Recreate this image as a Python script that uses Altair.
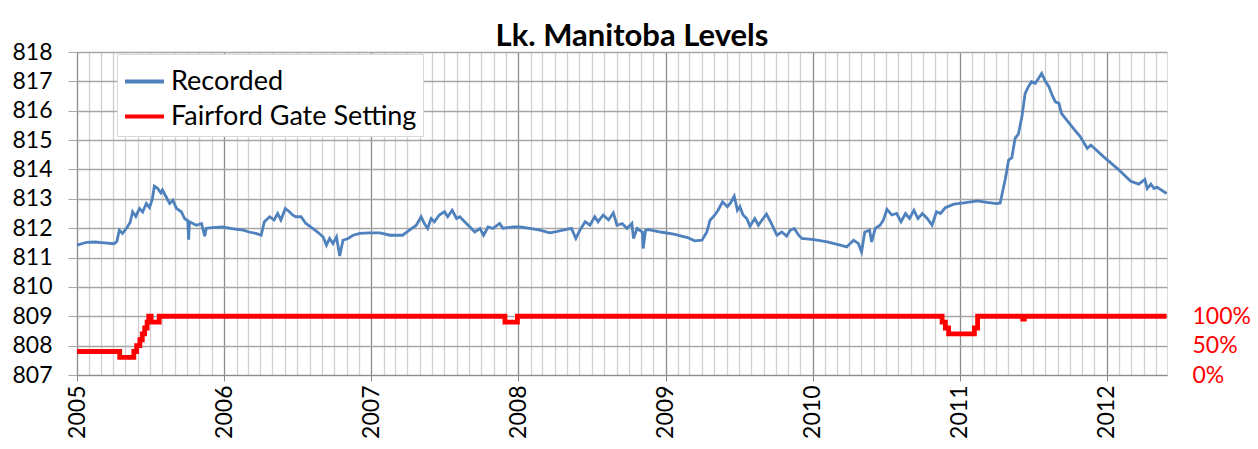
import altair as alt
import pandas as pd

# ---- Recorded lake level (ft) ----
rec_dates = [
    "2005-01-01", "2005-01-25", "2005-02-15", "2005-03-10", "2005-04-03", "2005-04-10",
    "2005-04-16", "2005-04-24", "2005-05-06", "2005-05-13", "2005-05-19", "2005-05-27",
    "2005-06-05", "2005-06-13", "2005-06-22", "2005-06-30", "2005-07-07", "2005-07-12",
    "2005-07-20", "2005-07-28", "2005-08-01", "2005-08-10", "2005-08-19", "2005-08-27",
    "2005-09-05", "2005-09-17", "2005-09-25", "2005-10-03", "2005-10-05", "2005-10-07",
    "2005-10-24", "2005-11-06", "2005-11-14", "2005-11-18", "2005-12-04", "2005-12-28",
    "2006-01-24", "2006-02-18", "2006-03-04", "2006-03-21", "2006-04-03",
    "2006-04-11", "2006-04-24", "2006-05-05", "2006-05-14", "2006-05-22", "2006-06-02",
    "2006-06-12", "2006-06-20", "2006-06-28", "2006-07-11", "2006-07-23", "2006-08-09",
    "2006-08-21", "2006-09-04", "2006-09-12", "2006-09-20", "2006-09-28", "2006-10-07",
    "2006-10-15", "2006-10-23", "2006-11-05", "2006-11-17", "2006-12-04", "2006-12-28",
    "2007-01-23", "2007-02-17", "2007-03-20", "2007-04-06", "2007-04-23", "2007-05-05",
    "2007-05-13", "2007-05-21", "2007-05-30", "2007-06-07", "2007-06-19", "2007-07-02",
    "2007-07-10", "2007-07-21", "2007-08-01", "2007-08-09", "2007-08-21", "2007-09-03",
    "2007-09-15", "2007-09-28", "2007-10-07", "2007-10-18", "2007-10-30", "2007-11-16",
    "2007-11-24", "2007-12-19", "2008-01-05", "2008-01-30", "2008-02-24", "2008-03-19",
    "2008-04-01", "2008-04-21", "2008-05-12", "2008-05-23", "2008-06-02", "2008-06-15",
    "2008-06-27", "2008-07-09", "2008-07-17", "2008-07-30", "2008-08-12", "2008-08-24",
    "2008-09-02", "2008-09-15", "2008-09-27", "2008-10-09", "2008-10-13", "2008-10-22",
    "2008-11-04", "2008-11-06", "2008-11-12", "2008-11-20", "2008-12-19", "2009-01-21",
    "2009-02-24", "2009-03-14", "2009-04-01", "2009-04-13", "2009-04-21", "2009-05-03",
    "2009-05-11", "2009-05-22", "2009-06-03", "2009-06-10", "2009-06-20", "2009-06-28",
    "2009-07-04", "2009-07-12", "2009-07-21", "2009-07-29", "2009-08-10", "2009-08-19",
    "2009-08-28", "2009-09-08", "2009-09-18", "2009-09-26", "2009-10-04", "2009-10-16",
    "2009-10-28", "2009-11-06", "2009-11-16", "2009-11-27", "2009-12-05", "2010-01-04",
    "2010-02-06", "2010-03-10", "2010-03-26", "2010-04-12", "2010-04-24", "2010-05-02",
    "2010-05-10", "2010-05-22", "2010-05-27", "2010-06-05", "2010-06-17", "2010-06-25",
    "2010-07-04", "2010-07-16", "2010-07-28", "2010-08-08", "2010-08-19", "2010-08-29",
    "2010-09-09", "2010-09-19", "2010-09-30", "2010-10-12", "2010-10-24", "2010-11-04",
    "2010-11-14", "2010-11-26", "2010-12-17", "2011-01-11", "2011-02-14", "2011-03-09",
    "2011-04-03", "2011-04-11", "2011-04-24", "2011-05-02", "2011-05-10", "2011-05-18",
    "2011-05-26", "2011-06-04", "2011-06-12", "2011-06-20", "2011-06-28", "2011-07-07",
    "2011-07-15", "2011-07-23", "2011-08-01", "2011-08-10", "2011-08-18", "2011-08-26",
    "2011-09-04", "2011-09-10", "2011-10-03", "2011-10-27", "2011-11-13", "2011-11-22",
    "2011-12-24", "2012-01-27", "2012-02-29", "2012-03-20", "2012-04-04", "2012-04-10",
    "2012-04-19", "2012-04-27", "2012-05-04", "2012-05-28",
]
rec_levels = [
    811.42, 811.52, 811.53, 811.50, 811.47, 811.55,
    811.93, 811.82, 812.04, 812.20, 812.56, 812.40,
    812.67, 812.55, 812.84, 812.70, 813.00, 813.43,
    813.36, 813.20, 813.30, 813.07, 812.84, 812.95,
    812.67, 812.56, 812.33, 812.25, 811.61, 812.22,
    812.10, 812.16, 811.73, 812.00, 812.02, 812.04,
    811.98, 811.93, 811.87, 811.82, 811.76,
    812.22, 812.39, 812.28, 812.50, 812.28, 812.67,
    812.56, 812.45, 812.39, 812.39, 812.16, 811.99,
    811.87, 811.70, 811.42, 811.65, 811.48, 811.70,
    811.05, 811.59, 811.65, 811.76, 811.82, 811.84,
    811.84, 811.76, 811.76, 811.93, 812.10, 812.39,
    812.16, 811.99, 812.33, 812.22, 812.45, 812.56,
    812.39, 812.61, 812.33, 812.39, 812.22, 812.04,
    811.87, 811.99, 811.76, 812.04, 811.99, 812.16,
    812.00, 812.04, 812.04, 811.99, 811.93, 811.84,
    811.87, 811.93, 811.99, 811.65, 811.93, 812.22,
    812.10, 812.39, 812.22, 812.45, 812.28, 812.52,
    812.10, 812.16, 811.99, 812.16, 811.65, 811.99,
    811.87, 811.31, 811.93, 811.95, 811.87, 811.80,
    811.68, 811.57, 811.59, 811.87, 812.27, 812.45,
    812.61, 812.90, 812.73, 812.84, 813.09, 812.61,
    812.73, 812.45, 812.33, 812.07, 812.33, 812.10,
    812.28, 812.48, 812.22, 811.99, 811.76, 811.87,
    811.73, 811.93, 811.99, 811.76, 811.65, 811.61,
    811.53, 811.42, 811.36, 811.59, 811.48, 811.19,
    811.87, 811.93, 811.53, 811.99, 812.10, 812.27,
    812.64, 812.45, 812.50, 812.22, 812.50, 812.33,
    812.61, 812.33, 812.50, 812.33, 812.10, 812.56,
    812.50, 812.70, 812.82, 812.86, 812.93, 812.88,
    812.84, 812.86, 813.69, 814.32, 814.40, 815.06,
    815.20, 815.80, 816.59, 816.82, 816.99, 816.93,
    817.10, 817.27, 817.00, 816.82, 816.53, 816.30,
    816.25, 815.91, 815.51, 815.11, 814.72, 814.83,
    814.43, 814.03, 813.60, 813.50, 813.66, 813.35,
    813.50, 813.35, 813.40, 813.18,
]

# ---- Fairford gate setting (% open) ----
gate_dates = [
    "2005-01-01", "2005-04-17", "2005-05-22", "2005-05-29", "2005-06-06", "2005-06-12",
    "2005-06-18", "2005-06-24", "2005-06-28", "2005-07-04", "2005-07-24",
    "2007-11-29", "2007-12-30", "2010-11-18", "2010-11-26", "2010-12-04",
    "2011-02-06", "2011-02-14", "2011-06-06", "2011-06-10", "2012-05-28",
]
gate_pct = [
    40, 30, 40, 50, 60, 70,
    80, 90, 100, 90, 100,
    90, 100, 90, 80, 70,
    80, 100, 95, 100, 100,
]

series_names = ["Recorded", "Fairford Gate Setting"]
series_colors = ["#4F81BD", "#FF0000"]
y_ticks = list(range(807, 819))
pct_ticks = [0, 50, 100]

rec_df = pd.DataFrame({"date": [d + "T00:00:00" for d in rec_dates],
                       "level": rec_levels, "series": series_names[0]})
gate_df = pd.DataFrame({"date": [d + "T00:00:00" for d in gate_dates],
                        "pct": gate_pct, "series": series_names[1]})

FONT = "Lato"
x_dom = [alt.DateTime(year=2005, month=1, date=1), alt.DateTime(year=2012, month=5, date=29)]

color = alt.Color(
    "series:N",
    scale=alt.Scale(domain=series_names, range=series_colors),
    legend=alt.Legend(
        orient="none", legendX=40, legendY=2, title=None, direction="vertical",
        fillColor="white", strokeColor="#d9d9d9", padding=6,
        labelFontSize=27, labelFont=FONT, labelColor="#000000", labelLimit=500,
        symbolType="stroke", symbolSize=1521, symbolStrokeWidth=4,
        rowPadding=0, labelOffset=5,
    ),
)

x_axis = alt.Axis(
    tickCount=alt.TimeIntervalStep(interval="month", step=1),
    grid=True,
    gridColor={"condition": {"test": "month(datum.value) == 0", "value": "#8c8c8c"}, "value": "#d0d0d0"},
    gridWidth=1.3,
    ticks=True, tickSize=6,
    tickColor={"condition": {"test": "month(datum.value) == 0", "value": "#8c8c8c"}, "value": "transparent"},
    domain=True, domainColor="#8c8c8c",
    labelExpr="month(datum.value) == 0 ? timeFormat(datum.value, '%Y') : ''",
    labelAngle=270, labelAlign="right", labelBaseline="middle",
    labelFontSize=23, labelFont=FONT, labelColor="#000000",
    labelOverlap=False, labelPadding=4, labelFlush=False, title=None,
)

levels = alt.Chart(rec_df).mark_line(strokeWidth=2.8, color="#4F81BD").encode(
    x=alt.X("date:T", scale=alt.Scale(domain=x_dom), axis=x_axis),
    y=alt.Y("level:Q", scale=alt.Scale(domain=[807, 818], nice=False, zero=False),
            axis=alt.Axis(values=y_ticks, grid=True, gridColor="#a6a6a6", gridWidth=1.3,
                          tickSize=9, tickColor="#a6a6a6", domain=False,
                          labelFontSize=23, labelFont=FONT, labelColor="#000000",
                          labelPadding=16, title=None, format="d")),
    color=color,
)

gate = alt.Chart(gate_df).mark_line(strokeWidth=4.8, interpolate="step-after", color="#FF0000").encode(
    x=alt.X("date:T", scale=alt.Scale(domain=x_dom)),
    y=alt.Y("pct:Q", scale=alt.Scale(domain=[0, 550], nice=False, zero=False),
            axis=alt.Axis(orient="right", values=pct_ticks, grid=False, ticks=False, tickSize=0,
                          domain=False, labelExpr="datum.value + '%'",
                          labelFontSize=23, labelFont=FONT, labelColor="#FF0000",
                          labelPadding=25, title=None)),
    color=color,
)

chart = alt.layer(levels, gate).resolve_scale(y="independent").properties(
    width=1090, height=323,
    autosize=alt.AutoSizeParams(type="none"),
    padding={"left": 69, "top": 44, "right": 83, "bottom": 66},
    title=alt.TitleParams("Lk. Manitoba Levels", fontSize=31, font=FONT, fontWeight="bold",
                          color="#000000", anchor="middle", frame="group", dx=10, dy=22, offset=10),
).configure_view(stroke="#8c8c8c", strokeWidth=1).configure(background="white")

chart.save("out.html", embed_options={"renderer": "svg", "actions": False})
